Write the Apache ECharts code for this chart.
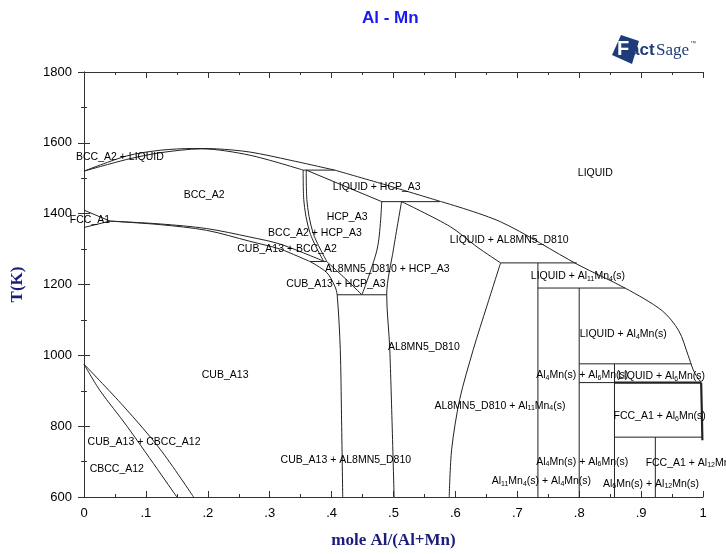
<!DOCTYPE html>
<html>
<head>
<meta charset="utf-8">
<script src="https://cdn.jsdelivr.net/npm/echarts@6/dist/echarts.min.js"></script>
<style>
  html, body { margin: 0; padding: 0; background: #fff; }
  #chart { width: 726px; height: 554px; }
</style>
</head>
<body>
<div id="chart"></div>
<script>
// Al - Mn phase diagram. Each boundary is a list of [mole fraction Al, T (K)].

const xTicks = [0, 0.1, 0.2, 0.3, 0.4, 0.5, 0.6, 0.7, 0.8, 0.9, 1];
const yTicks = [600, 800, 1000, 1200, 1400, 1600, 1800];

// Liquidus
const liquidusMnSide = [[0, 1520], [0.069, 1563], [0.123, 1579], [0.177, 1584], [0.214, 1583], [0.268, 1574], [0.333, 1551], [0.405, 1523]];
const liquidusHcp = [[0.405, 1523], [0.484, 1483], [0.575, 1435]];
const liquidusAlSide = [[0.575, 1435], [0.673, 1377], [0.798, 1256], [0.874, 1190], [0.934, 1126], [0.961, 1069], [0.976, 1000], [0.984, 960], [0.99, 940], [0.997, 926], [1, 930]];

// BCC_A2 solidus and the peritectic to HCP_A3
const bccSolidus = [[0, 1520], [0.069, 1553], [0.123, 1572], [0.19, 1583], [0.268, 1565], [0.354, 1523]];
const peritecticHcp = [[0.354, 1523], [0.405, 1523]];
const hcpSolidus = [[0.359, 1523], [0.481, 1434]];
const peritecticAl8Mn5 = [[0.481, 1434], [0.575, 1434]];

// BCC_A2 + HCP_A3 band
const bccHcpBcc = [[0.354, 1523], [0.355, 1440], [0.365, 1346], [0.387, 1266]];
const bccHcpHcp = [[0.359, 1523], [0.36, 1440], [0.37, 1346], [0.392, 1266]];
const eutectoidBcc = [[0.365, 1265], [0.392, 1265]];

// FCC_A1 at the Mn side
const fccUpper = [[0, 1410], [0.042, 1379]];
const fccLower = [[0, 1361], [0.042, 1379]];

// CUB_A13 + BCC_A2 band
const cubBccBcc = [[0.042, 1379], [0.123, 1371], [0.198, 1358], [0.268, 1334], [0.317, 1314], [0.387, 1266]];
const cubBccCub = [[0.042, 1379], [0.123, 1369], [0.198, 1353], [0.268, 1322], [0.317, 1300], [0.345, 1280], [0.365, 1265]];

// CUB_A13 Al-rich boundary and the HCP_A3 eutectoid
const cubRight = [[0.365, 1265], [0.392, 1234], [0.405, 1196], [0.409, 1171], [0.414, 1017], [0.416, 829], [0.418, 600]];
const eutectoidHcp = [[0.409, 1171], [0.489, 1171]];
const hcpLowLeft = [[0.392, 1265], [0.42, 1220], [0.449, 1171]];
const hcpRight = [[0.481, 1434], [0.474, 1303], [0.449, 1171]];

// AL8MN5_D810
const al8mn5Left = [[0.513, 1434], [0.5, 1300], [0.489, 1171], [0.494, 1017], [0.501, 600]];
const al8mn5Solidus = [[0.513, 1434], [0.592, 1363], [0.635, 1306], [0.673, 1261]];
const al8mn5Right = [[0.673, 1261], [0.651, 1140], [0.629, 1017], [0.607, 876], [0.594, 735], [0.59, 600]];

// Stoichiometric compounds and invariant lines
const peritectic1261 = [[0.673, 1261], [0.796, 1261]];
const al11mn4 = [[0.7333, 1261], [0.7333, 600]];
const peritectic1190 = [[0.7333, 1190], [0.874, 1190]];
const al4mn = [[0.8, 1190], [0.8, 600]];
const peritectic976 = [[0.8, 976], [0.981, 976]];
const al6mn = [[0.857, 976], [0.857, 600]];
const transition923 = [[0.8, 923], [0.857, 923]];
const eutectic923 = [[0.857, 923], [0.997, 923]];
const fccSolvus = [[0.997, 923], [0.998, 850], [0.999, 760]];
const peritectoid769 = [[0.857, 769], [0.998, 769]];
const al12mn = [[0.923, 769], [0.923, 600]];

// CBCC_A12 at the Mn side
const cbccBoundary = [[0, 975], [0.026, 900], [0.069, 801], [0.15, 600]];
const cubLowBoundary = [[0, 975], [0.0635, 857], [0.123, 735], [0.177, 600]];

const smoothCurves = [
  liquidusMnSide, liquidusHcp, liquidusAlSide, bccSolidus, bccHcpBcc, bccHcpHcp,
  cubBccBcc, cubBccCub, cubRight, hcpLowLeft, hcpRight, al8mn5Left, al8mn5Solidus,
  al8mn5Right, cbccBoundary, cubLowBoundary
];
const straightLines = [
  peritecticHcp, hcpSolidus, peritecticAl8Mn5, eutectoidBcc, fccUpper, fccLower,
  eutectoidHcp, peritectic1261, al11mn4, peritectic1190, al4mn, peritectic976, al6mn,
  transition923, peritectoid769, al12mn
];
const thickCurves = [eutectic923, fccSolvus];

// Phase field names: [x, T, text]; {s|..} marks a subscript
const phaseLabels = [
  [0.058, 1559, 'BCC_A2 + LIQUID'],
  [0.194, 1452, 'BCC_A2'],
  [0.0097, 1381, 'FCC_A1'],
  [0.473, 1474, 'LIQUID + HCP_A3'],
  [0.425, 1390, 'HCP_A3'],
  [0.373, 1345, 'BCC_A2 + HCP_A3'],
  [0.328, 1299, 'CUB_A13 + BCC_A2'],
  [0.687, 1325, 'LIQUID + AL8MN5_D810'],
  [0.49, 1243, 'AL8MN5_D810 + HCP_A3'],
  [0.798, 1223, 'LIQUID + Al{s|11}Mn{s|4}(s)'],
  [0.407, 1201, 'CUB_A13 + HCP_A3'],
  [0.826, 1514, 'LIQUID'],
  [0.871, 1060, 'LIQUID + Al{s|4}Mn(s)'],
  [0.549, 1023, 'AL8MN5_D810'],
  [0.228, 944, 'CUB_A13'],
  [0.805, 944, 'Al{s|4}Mn(s) + Al{s|6}Mn(s)'],
  [0.933, 941, 'LIQUID + Al{s|6}Mn(s)'],
  [0.672, 857, 'AL8MN5_D810 + Al{s|11}Mn{s|4}(s)'],
  [0.93, 828, 'FCC_A1 + Al{s|6}Mn(s)'],
  [0.097, 755, 'CUB_A13 + CBCC_A12'],
  [0.053, 679, 'CBCC_A12'],
  [0.423, 705, 'CUB_A13 + AL8MN5_D810'],
  [0.805, 699, 'Al{s|4}Mn(s) + Al{s|6}Mn(s)'],
  [0.985, 697, 'FCC_A1 + Al{s|12}Mn(s)'],
  [0.739, 645, 'Al{s|11}Mn{s|4}(s) + Al{s|4}Mn(s)'],
  [0.916, 637, 'Al{s|6}Mn(s) + Al{s|12}Mn(s)']
];

const lineColor = '#222';
const navy = '#1c1c7a';

function curveSeries(points, width, smooth) {
  return {
    type: 'line', data: points, showSymbol: false, symbol: 'none', smooth: smooth,
    lineStyle: { color: lineColor, width: width }, silent: true, z: 3
  };
}

const series = smoothCurves.map(c => curveSeries(c, 1, 0.3))
  .concat(straightLines.map(c => curveSeries(c, 1, false)))
  .concat(thickCurves.map(c => curveSeries(c, 2.2, false)));

series.push({
  type: 'scatter', symbolSize: 0, silent: true, z: 5,
  itemStyle: { opacity: 1 },
  data: phaseLabels.map(l => ({ value: [l[0], l[1]], text: l[2] })),
  label: {
    show: true, position: 'inside', opacity: 1,
    formatter: p => p.data.text,
    fontFamily: 'Liberation Sans, Arial, sans-serif',
    fontSize: 10.5, lineHeight: 12, color: '#000',
    rich: { s: { fontSize: 7, lineHeight: 8, verticalAlign: 'bottom', color: '#000' } }
  }
});

const tickFmt = v => {
  if (Math.abs(v) < 1e-9) return '0';
  if (Math.abs(v - 1) < 1e-9) return '1';
  return v.toFixed(1).replace(/^0/, '');
};

const frameAxis = {
  axisLine: { show: true, lineStyle: { color: '#333', width: 1 } },
  axisTick: { show: true, inside: true, length: 6, lineStyle: { color: '#333' } },
  minorTick: { show: true, splitNumber: 2, length: 3, lineStyle: { color: '#333' } },
  splitLine: { show: false }
};

const chart = echarts.init(document.getElementById('chart'), null, { renderer: 'canvas' });
chart.setOption({
  animation: false,
  backgroundColor: '#fff',
  grid: { left: 84, right: 23, top: 72, bottom: 56 },
  xAxis: [
    Object.assign({
      type: 'value', min: xTicks[0], max: xTicks[xTicks.length - 1], interval: 0.1,
      position: 'bottom',
      name: 'mole Al/(Al+Mn)', nameLocation: 'middle', nameGap: 35,
      nameTextStyle: { fontFamily: 'Liberation Serif, Times New Roman, serif', fontWeight: 'bold', fontSize: 17, color: navy },
      axisLabel: { formatter: tickFmt, margin: 10, fontFamily: 'Liberation Sans, Arial, sans-serif', fontSize: 13, color: '#000' }
    }, frameAxis),
    Object.assign({
      type: 'value', min: 0, max: 1, interval: 0.1, position: 'top',
      axisLabel: { show: false }
    }, frameAxis)
  ],
  yAxis: [
    Object.assign({
      type: 'value', min: yTicks[0], max: yTicks[yTicks.length - 1], interval: 200,
      position: 'left',
      name: 'T(K)', nameLocation: 'middle', nameGap: 58, nameRotate: 90,
      nameTextStyle: { fontFamily: 'Liberation Serif, Times New Roman, serif', fontWeight: 'bold', fontSize: 17, color: navy },
      axisLabel: { formatter: v => String(v), margin: 12, fontFamily: 'Liberation Sans, Arial, sans-serif', fontSize: 13, color: '#000' }
    }, frameAxis),
    Object.assign({
      type: 'value', min: 600, max: 1800, interval: 200, position: 'right',
      axisLabel: { show: false }
    }, frameAxis)
  ],
  series: series,
  graphic: [
    {
      type: 'text', left: 392 - 30, top: 10,
      style: { text: 'Al - Mn', fontFamily: 'Liberation Sans, Arial, sans-serif', fontSize: 17, fontWeight: 'bold', fill: '#1a1af0' }
    },
    {
      type: 'polygon', shape: { points: [[612, 55], [621, 35], [639, 41], [632, 64]] },
      style: { fill: '#1e3b7a' }
    },
    {
      type: 'text', x: 617, y: 39,
      style: { text: 'F', fontFamily: 'Liberation Sans, Arial, sans-serif', fontSize: 20, fontWeight: 'bold', fill: '#fff' }
    },
    {
      type: 'text', x: 630, y: 42,
      style: { text: 'act', fontFamily: 'Liberation Sans, Arial, sans-serif', fontSize: 17, fontWeight: 'bold', fill: '#1e3b7a' }
    },
    {
      type: 'text', x: 656, y: 42,
      style: { text: 'Sage', fontFamily: 'Liberation Serif, Times New Roman, serif', fontSize: 17, fill: '#1e3b7a' }
    },
    {
      type: 'text', x: 690, y: 40,
      style: { text: '™', fontFamily: 'Liberation Sans, Arial, sans-serif', fontSize: 6, fill: '#1e3b7a' }
    }
  ]
});
</script>
</body>
</html>
